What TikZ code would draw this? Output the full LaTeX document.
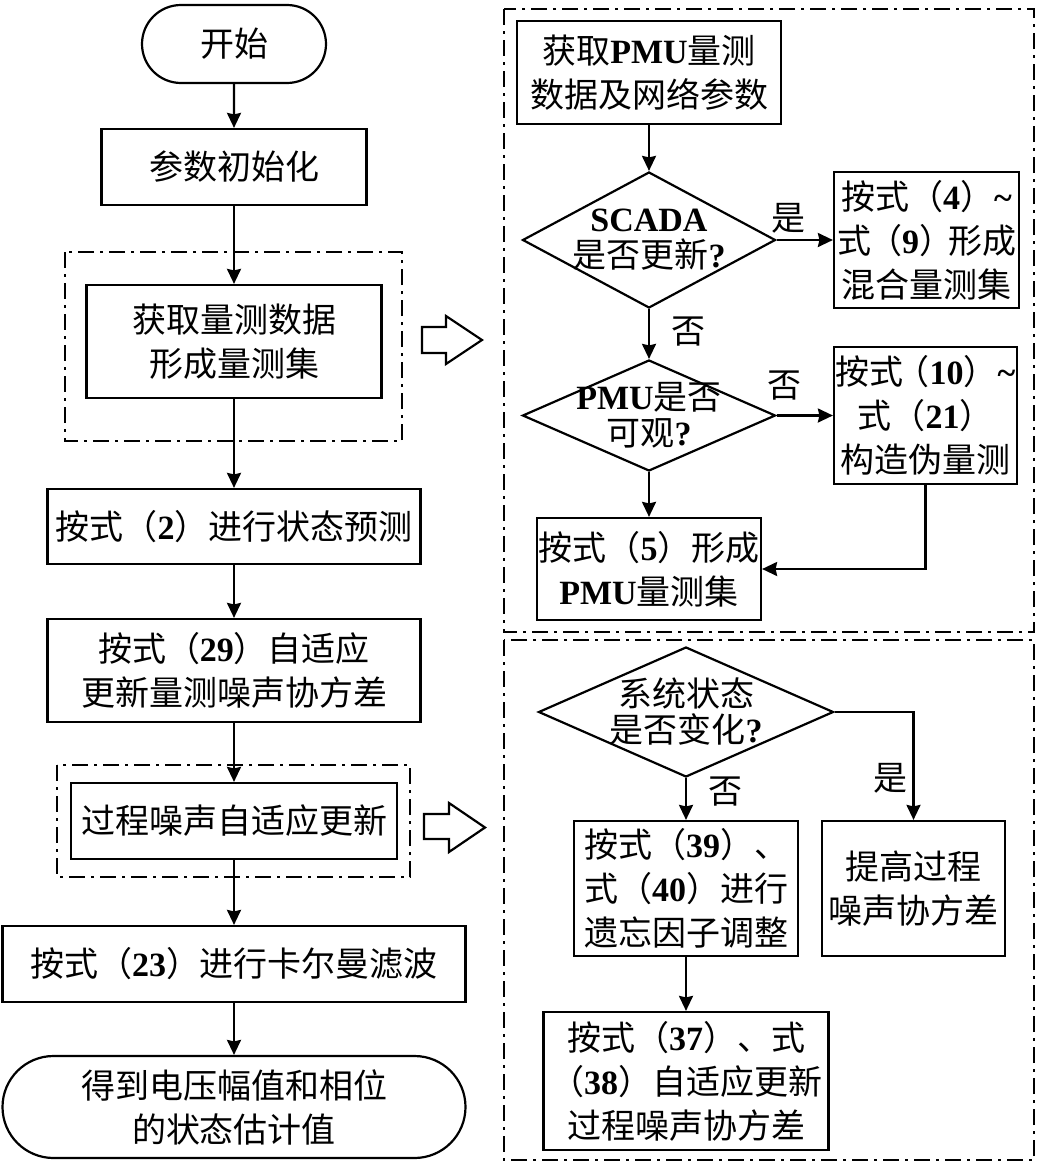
\documentclass[tikz,border=0pt]{standalone}
\usepackage{fontspec}
\setmainfont{Noto Sans CJK SC}
\newfontfamily\latf{Liberation Serif}
\newcommand\lt[1]{{\latf\bfseries #1}}
\usetikzlibrary{arrows.meta,shapes.geometric,shapes.misc}
\begin{document}
\begin{tikzpicture}[x=1pt,y=-1pt,
  every node/.style={font=\fontsize{34}{44}\selectfont},
  box/.style={draw,line width=2.2pt,rectangle,inner sep=0pt,align=center},
  term/.style={draw,line width=2.2pt,rounded rectangle,inner sep=0pt,align=center},
  dia/.style={draw,line width=2.2pt,diamond,inner sep=0pt},
  dlbl/.style={font=\fontsize{34}{36}\selectfont,align=center,inner sep=0pt},
  conn/.style={line width=2.2pt,-{Stealth[length=15pt,width=14pt,inset=1.5pt]}},
  grp/.style={line width=1.9pt,dash pattern=on 16pt off 6pt on 3pt off 6pt},
  hollow/.style={line width=2.2pt,fill=white,line join=miter},
  yn/.style={inner sep=0pt}
]
\useasboundingbox (0,0) rectangle (1039,1162);

% left column
\node[term,minimum width=184pt,minimum height=78pt] (start) at (234,44) {开始};
\node[box,minimum width=265pt,minimum height=76pt] (init) at (234,167) {参数初始化};
\node[box,minimum width=295pt,minimum height=113pt] (acq) at (234,341.5) {获取量测数据\\形成量测集};
\node[box,minimum width=373pt,minimum height=75pt] (pred) at (234,526.5) {按式（\lt{2}）进行状态预测};
\node[box,minimum width=373pt,minimum height=103pt] (r29) at (234,670.5) {按式（\lt{29}）自适应\\更新量测噪声协方差};
\node[box,minimum width=326pt,minimum height=76pt] (proc) at (234,821) {过程噪声自适应更新};
\node[box,minimum width=463pt,minimum height=76pt] (kf) at (234,964) {按式（\lt{23}）进行卡尔曼滤波};
\node[term,minimum width=463pt,minimum height=102pt] (end) at (234,1107) {得到电压幅值和相位\\的状态估计值};

\draw[conn] (start) -- (init);
\draw[conn] (init) -- (acq);
\draw[conn] (acq) -- (pred);
\draw[conn] (pred) -- (r29);
\draw[conn] (r29) -- (proc);
\draw[conn] (proc) -- (kf);
\draw[conn] (kf) -- (end);

\draw[grp] (65,252) rectangle (402,441);
\draw[grp] (57,765) rectangle (410,877);

% hollow arrows
\draw[hollow] (422,327) -- (446,327) -- (446,316) -- (482,340) -- (446,364) -- (446,353) -- (422,353) -- cycle;
\draw[hollow] (424,814) -- (449,814) -- (449,803) -- (485,827.5) -- (449,852) -- (449,839) -- (424,839) -- cycle;

% right top
\draw[grp] (504,9) rectangle (1034,632);
\node[box,minimum width=264pt,minimum height=103pt] (pmu) at (649,72.5) {获取\lt{PMU}量测\\数据及网络参数};
\node[dia,minimum width=253pt,minimum height=136pt,label={[dlbl]center:{\lt{SCADA}\\是否更新\lt{?}}}] (d1) at (649,240) {};
\node[box,minimum width=185pt,minimum height=136pt] (b4) at (926.5,240) {按式（\lt{4}）\lt{\textasciitilde}\\式\kern-3pt（\lt{9}）\kern-5pt形成\\混合量测集};
\node[dia,minimum width=253pt,minimum height=111pt,label={[dlbl]center:{\lt{PMU}是否\\可观\lt{?}}}] (d2) at (649,415.5) {};
\node[box,minimum width=183pt,minimum height=137pt] (b10) at (925.5,415.5) {按式\kern-8pt（\lt{10}）\lt{\textasciitilde}\\式（\lt{21}）\\构造伪量测};
\node[box,minimum width=224pt,minimum height=102pt] (b5) at (649,569) {按式（\lt{5}）形成\\\lt{PMU}量测集};

\draw[conn] (pmu) -- (d1);
\draw[conn] (d1.east) -- (b4.west);
\draw[conn] (d1.south) -- (d2.north);
\draw[conn] (d2.east) -- (b10.west);
\draw[conn] (d2.south) -- (b5.north);
\draw[conn] (b10.south) |- (b5.east);

\node[yn] (y1) at (788,218) {是};
\node[yn] (n1) at (688,332) {否};
\node[yn] (n2) at (784,386) {否};

% right bottom
\draw[grp] (504,640) rectangle (1034,1160);
\node[dia,minimum width=295pt,minimum height=130pt,label={[dlbl]center:{系统状态\\是否变化\lt{?}}}] (d3) at (686,712) {};
\node[box,minimum width=224pt,minimum height=135pt] (b39) at (686,888.5) {按式（\lt{39}）、\\式（\lt{40}）进行\\遗忘因子调整};
\node[box,minimum width=183pt,minimum height=135pt] (bhi) at (913.5,888.5) {提高过程\\噪声协方差};
\node[box,minimum width=285pt,minimum height=138pt] (b37) at (686,1081) {按式（\lt{37}）、式\\（\lt{38}）自适应更新\\过程噪声协方差};

\draw[conn] (d3.south) -- (b39.north);
\draw[conn] (d3.east) -| (bhi.north);
\draw[conn] (b39) -- (b37);

\node[yn] (n3) at (725,792) {否};
\node[yn] (y3) at (890,778) {是};
\end{tikzpicture}
\end{document}
